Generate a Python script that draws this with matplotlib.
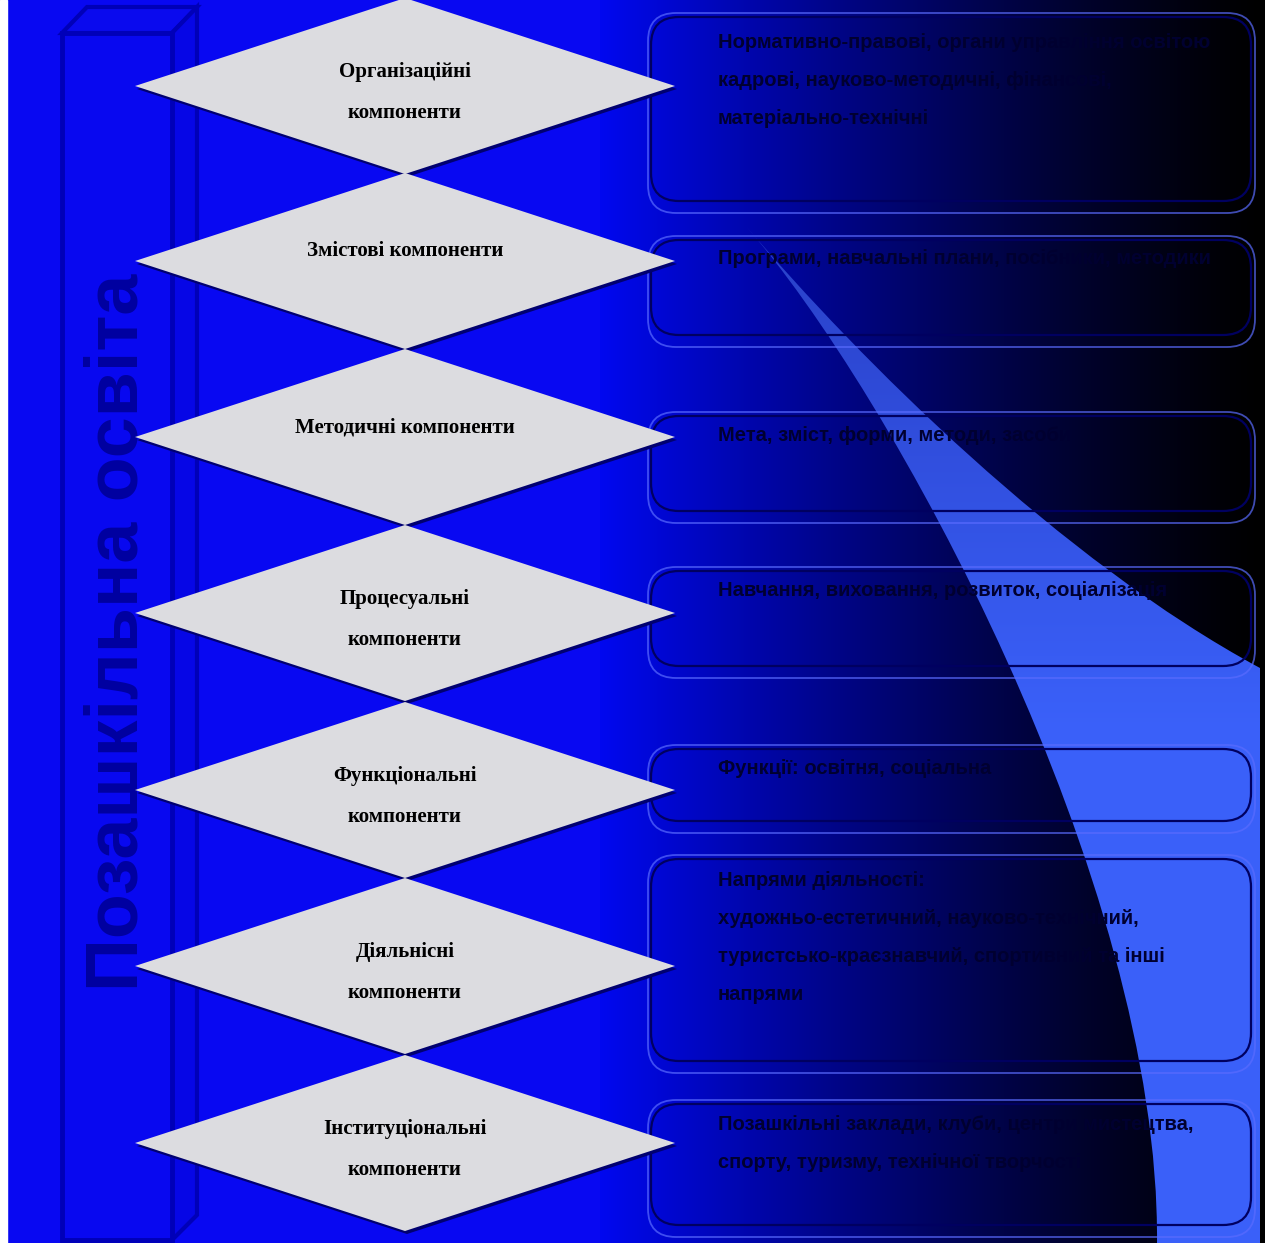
import numpy as np
import matplotlib
matplotlib.use("Agg")
from matplotlib import pyplot as plt
from matplotlib.patches import Polygon, Rectangle, FancyBboxPatch, PathPatch
from matplotlib.path import Path

# labels on the diamonds (left column)
diamond_labels = [
    "Організаційні\nкомпоненти",
    "Змістові компоненти",
    "Методичні компоненти",
    "Процесуальні\nкомпоненти",
    "Функціональні\nкомпоненти",
    "Діяльнісні\nкомпоненти",
    "Інституціональні\nкомпоненти",
]
# text inside the rounded boxes (right column), one list of lines per box
box_texts = [
    ["Нормативно-правові, органи управління освітою",
     "кадрові, науково-методичні, фінансові,",
     "матеріально-технічні"],
    ["Програми, навчальні плани, посібники, методики"],
    ["Мета, зміст, форми, методи, засоби"],
    ["Навчання, виховання, розвиток, соціалізація"],
    ["Функції: освітня, соціальна"],
    ["Напрями діяльності:",
     "художньо-естетичний, науково-технічний,",
     "туристсько-краєзнавчий, спортивний та інші",
     "напрями"],
    ["Позашкільні заклади, клуби, центри мистецтва,",
     "спорту, туризму, технічної творчості"],
]
side_title = "Позашкільна освіта"

# layout (pixels, y grows downward)
W, H = 1265, 1243
diamond_y = [86, 261, 437, 613, 790, 966, 1143]
box_top = [13, 236, 412, 567, 745, 855, 1100]
box_bot = [213, 347, 523, 678, 833, 1073, 1237]
text_y0 = [42, 258, 435, 590, 768, 880, 1125]

fig = plt.figure(figsize=(W / 100, H / 100), dpi=100)
ax = fig.add_axes([0, 0, 1, 1])
ax.set_xlim(0, W)
ax.set_ylim(H, 0)
ax.axis("off")

# plain blue background
ax.add_patch(Rectangle((0, 0), W, H, color="#0808f2", zorder=0))

# horizontal blue -> black gradient on the right half
gx = np.linspace(0, 1, 400)
blue = 0.94 * (1 - gx) ** 1.3
grad = np.zeros((2, 400, 3))
grad[:, :, 2] = blue
grad[:, :, 1] = 0.03 * (1 - gx)
ax.imshow(grad, extent=(600, W, H, 0), aspect="auto", zorder=1,
          interpolation="bilinear")

# light blue curved wedge
tip = (745, 225)
wedge_path = Path(
    [tip, (890, 390), (1160, 880), (1157, H),
     (1260, H), (1260, 668),
     (1060, 560), (860, 360), tip, tip],
    [Path.MOVETO, Path.CURVE4, Path.CURVE4, Path.CURVE4,
     Path.LINETO, Path.LINETO,
     Path.CURVE4, Path.CURVE4, Path.CURVE4, Path.CLOSEPOLY])
wedge = PathPatch(wedge_path, facecolor="none", edgecolor="none")
ax.add_patch(wedge)
gy = np.linspace(0, 1, 300)
wg = np.zeros((300, 2, 3))
wg[:, :, 0] = (0.16 + 0.07 * np.clip(gy * 2, 0, 1))[:, None]
wg[:, :, 1] = (0.25 + 0.13 * np.clip(gy * 2, 0, 1))[:, None]
wg[:, :, 2] = (0.78 + 0.2 * np.clip(gy * 2, 0, 1))[:, None]
im = ax.imshow(wg, extent=(700, W, H, 220), aspect="auto", zorder=2,
               interpolation="bilinear")
im.set_clip_path(wedge)

# rounded boxes on the right
for top, bot in zip(box_top, box_bot):
    ax.add_patch(FancyBboxPatch((648, top), 607, bot - top,
                                boxstyle="round,pad=0,rounding_size=28",
                                fill=False, edgecolor="#5a6cff", lw=1.3,
                                alpha=0.7, zorder=3))
    ax.add_patch(FancyBboxPatch((651, top + 4), 600, bot - top - 16,
                                boxstyle="round,pad=0,rounding_size=28",
                                fill=False, edgecolor="#000060", lw=1.6,
                                zorder=3))

for lines, y0 in zip(box_texts, text_y0):
    for k, line in enumerate(lines):
        ax.text(718, y0 + 38 * k, line, ha="left", va="center",
                fontsize=14.5, fontweight="bold", color="#000030",
                family=["Liberation Sans Narrow", "Liberation Sans", "DejaVu Sans"],
                zorder=4)

# white strip on the left edge
ax.add_patch(Rectangle((0, 0), 7, H, color="white", zorder=5))

# 3D "book" shape behind the diamonds
edge = "#0000b8"
ax.add_patch(Polygon([(62, 33), (87, 7), (197, 7), (172, 33)], closed=True,
                     facecolor="#0a0aee", edgecolor=edge, lw=3, zorder=5))
ax.add_patch(Polygon([(172, 33), (197, 7), (197, 1215), (172, 1240)],
                     closed=True, facecolor="#0606e6", edgecolor=edge, lw=3,
                     zorder=5))
ax.add_patch(Rectangle((62, 33), 110, 1207, facecolor="#0808f0",
                       edgecolor=edge, lw=3.5, zorder=5))

ax.text(118, 632, side_title, rotation=90, ha="center", va="center",
        fontsize=53, fontweight="bold", color="#0000a0",
        family=["Liberation Sans", "DejaVu Sans"], zorder=6)

# diamonds with a dark shadow edge
cx, hw, hh = 405, 270, 88
for yc, label in zip(diamond_y, diamond_labels):
    pts = [(cx - hw, yc), (cx, yc - hh), (cx + hw, yc), (cx, yc + hh)]
    shadow = [(x + 2, y + 3) for x, y in pts]
    ax.add_patch(Polygon(shadow, closed=True, facecolor="#000070",
                         edgecolor="none", zorder=7))
    ax.add_patch(Polygon(pts, closed=True, facecolor="#dcdce0",
                         edgecolor="none", zorder=8))
    parts = label.split("\n")
    if len(parts) == 1:
        ys = [yc - 10]
    else:
        ys = [yc - 14, yc + 27]
    for part, ty in zip(parts, ys):
        ax.text(cx, ty, part, ha="center", va="center", fontsize=15,
                fontweight="bold", color="black",
                family=["Liberation Serif", "DejaVu Serif"], zorder=9)

fig.savefig("out.png", dpi=100)
